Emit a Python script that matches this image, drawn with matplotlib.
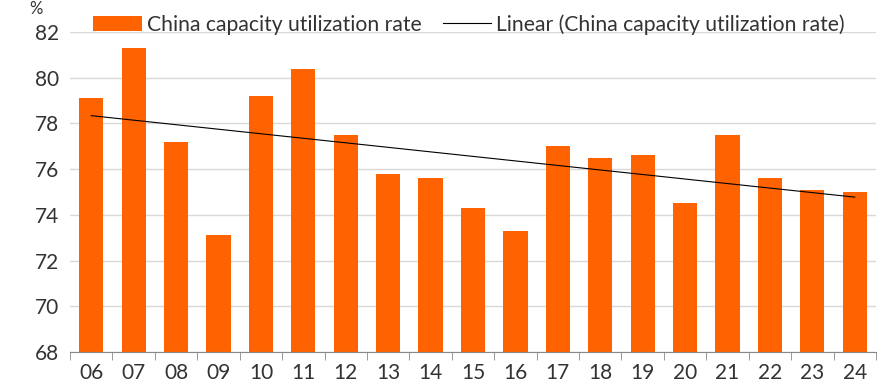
import numpy as np
import matplotlib.pyplot as plt

years = ['06', '07', '08', '09', '10', '11', '12', '13', '14', '15',
         '16', '17', '18', '19', '20', '21', '22', '23', '24']
utilization = [79.1, 81.3, 77.2, 73.1, 79.2, 80.4, 77.5, 75.8, 75.6, 74.3,
               73.3, 77.0, 76.5, 76.6, 74.5, 77.5, 75.6, 75.1, 75.0]

plt.rcParams['font.family'] = ['Lato', 'DejaVu Sans']
orange = '#FF6200'
grey = '#333333'

fig = plt.figure(figsize=(8.81, 3.88), dpi=100)
ax = fig.add_axes([70 / 881, 1 - 352 / 388, 806 / 881, 320 / 388])

x = np.arange(len(years))
bars = ax.bar(x, utilization, width=0.57, color=orange, zorder=2,
              label='China capacity utilization rate')

# Excel-style linear trendline
slope, intercept = np.polyfit(x, utilization, 1)
trend, = ax.plot(x, slope * x + intercept, color='black', lw=0.8, zorder=3,
                 label='Linear (China capacity utilization rate)')

ax.set_xlim(-0.5, len(years) - 0.5)
ax.set_ylim(68, 82)
ax.set_yticks(range(68, 83, 2))
ax.set_xticks(x)
ax.set_xticklabels(years)
ax.yaxis.grid(True, color='#d9d9d9', lw=1, zorder=0)
ax.set_axisbelow(True)

for side in ['top', 'right', 'left']:
    ax.spines[side].set_visible(False)
ax.spines['bottom'].set_color('#888888')

# ticks between categories, labels centred on bars
ax.set_xticks(np.arange(-0.5, len(years), 1), minor=True)
ax.tick_params(axis='x', which='major', length=0, pad=8, labelsize=15, labelcolor=grey)
ax.tick_params(axis='x', which='minor', length=6, color='#888888')
ax.tick_params(axis='y', length=0, pad=8, labelsize=15, labelcolor=grey)

ax.legend(handles=[bars, trend], loc='lower left', bbox_to_anchor=(0.018, 0.965),
          ncol=2, frameon=False, fontsize=15.2, labelcolor=grey,
          handlelength=2.3, handletextpad=0.25, columnspacing=1.0, borderaxespad=0)

fig.text(36 / 881, 1 - 9 / 388, '%', fontsize=12, color=grey, ha='center', va='center')

fig.savefig('out.png', dpi=100)
